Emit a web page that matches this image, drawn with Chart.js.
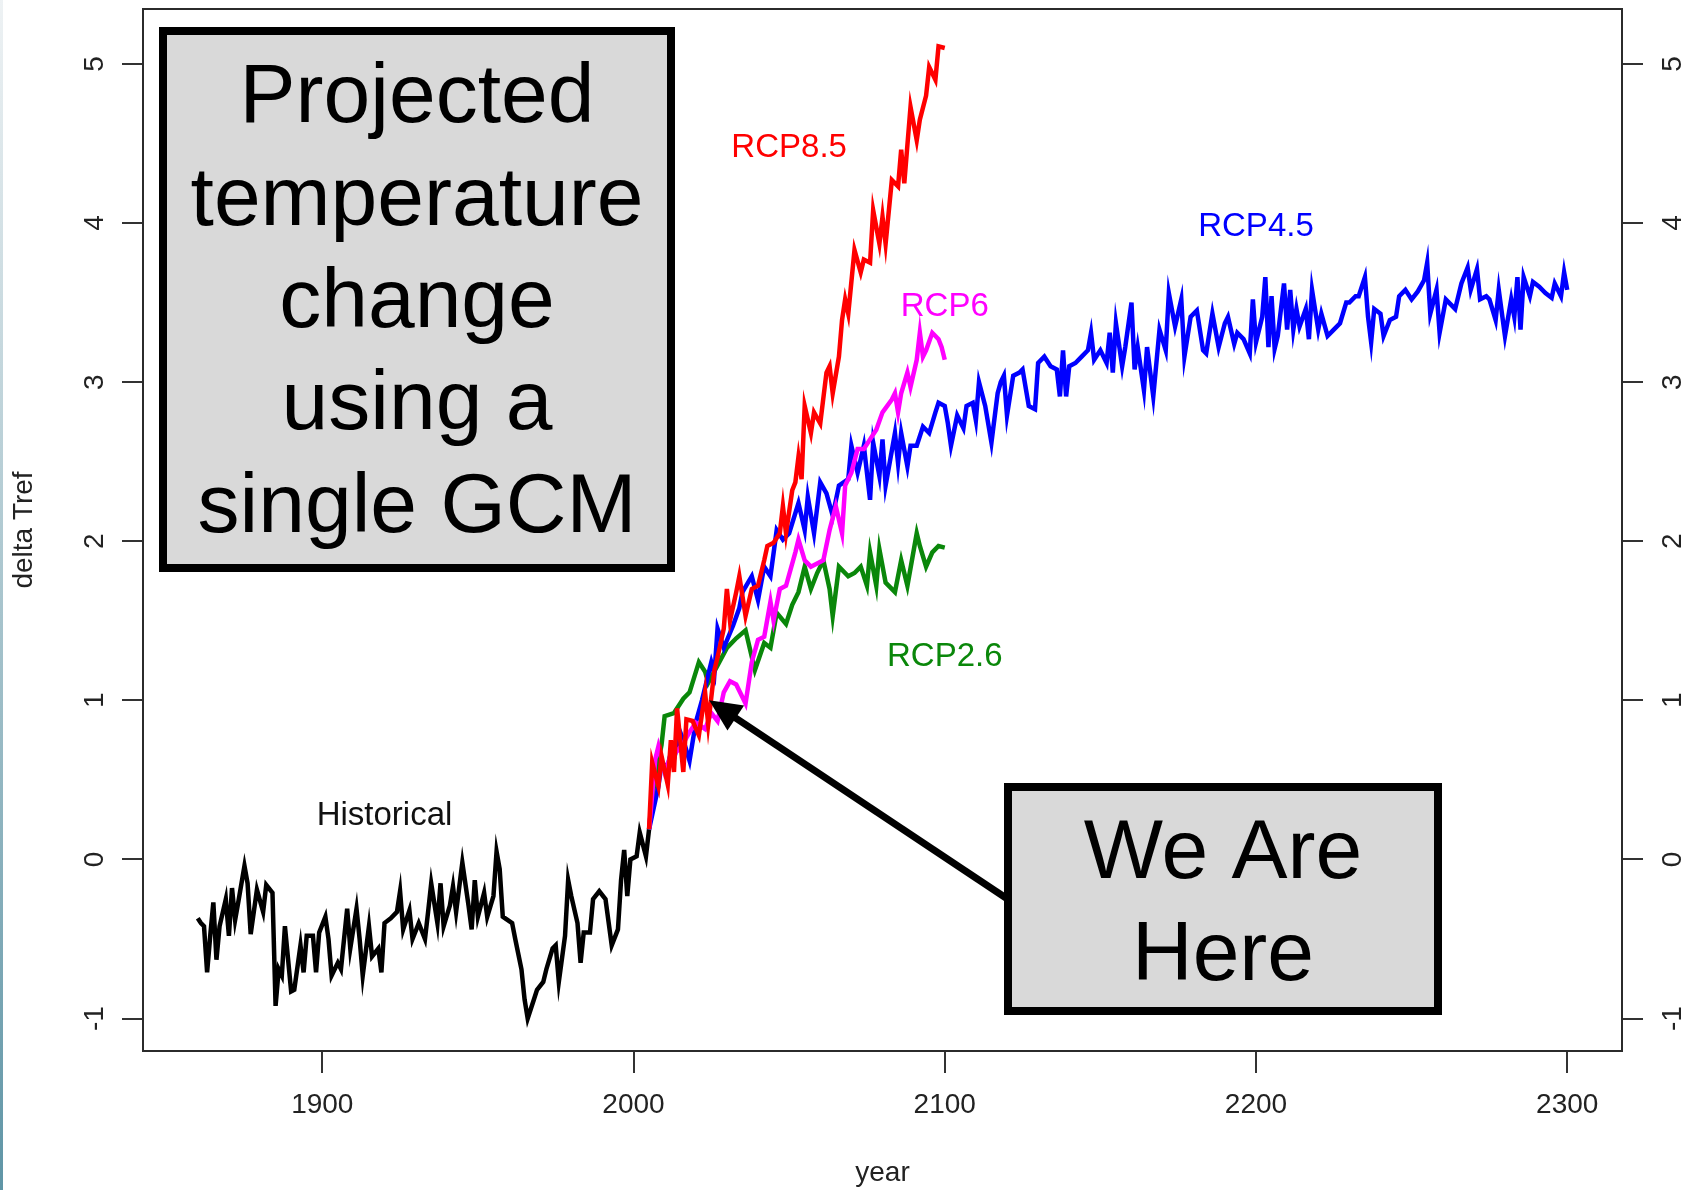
<!DOCTYPE html>
<html>
<head>
<meta charset="utf-8">
<script src="https://cdn.jsdelivr.net/npm/chart.js@4.4.1/dist/chart.umd.min.js"></script>
<style>
  html, body { margin: 0; padding: 0; background: #fff; }
  #wrap { position: relative; width: 1690px; height: 1190px; }
  #edge { position: absolute; left: 0; top: 0; width: 3px; height: 1190px;
          background: linear-gradient(#eef2f4, #9bbcc6 60%, #5f95a6); }
</style>
</head>
<body>
<div id="wrap">
  <canvas id="tref" width="1690" height="1190"></canvas>
  <div id="edge"></div>
</div>
<script>
// tick labels
const xTicks = [1900, 2000, 2100, 2200, 2300];
const yTicks = [-1, 0, 1, 2, 3, 4, 5];

// historical run
const histYears = [1860,1861,1862,1863,1864,1865,1866,1867,1869,1870,1871,1872,1873,1875,1876,1877,1879,1881,1882,1884,
  1885,1886,1887,1888,1890,1891,1893,1894,1895,1897,1898,1899,1901,1902,1903,1905,1906,1908,1909,1911,
  1912,1913,1915,1916,1918,1919,1920,1922,1924,1925,1926,1928,1929,1931,1933,1934,1935,1937,1938,1939,
  1941,1942,1943,1945,1947,1948,1949,1950,1952,1953,1955,1956,1957,1958,1961,1962,1964,1965,1966,1968,
  1969,1971,1972,1974,1975,1976,1978,1979,1980,1982,1983,1984,1986,1987,1989,1991,1993,1995,1996,1997,
  1998,1999,2001,2002,2004,2005];
const histTemp = [-0.37,-0.40,-0.42,-0.71,-0.48,-0.27,-0.63,-0.42,-0.25,-0.48,-0.18,-0.38,-0.27,-0.04,-0.15,-0.47,-0.19,-0.33,-0.16,-0.21,
  -0.92,-0.69,-0.73,-0.42,-0.83,-0.82,-0.54,-0.71,-0.48,-0.48,-0.71,-0.46,-0.36,-0.50,-0.73,-0.65,-0.69,-0.31,-0.56,-0.31,
  -0.50,-0.73,-0.42,-0.61,-0.56,-0.71,-0.40,-0.37,-0.33,-0.20,-0.44,-0.32,-0.50,-0.40,-0.50,-0.33,-0.15,-0.40,-0.15,-0.42,
  -0.29,-0.17,-0.33,-0.02,-0.29,-0.44,-0.13,-0.36,-0.21,-0.36,-0.23,0.05,-0.06,-0.36,-0.40,-0.50,-0.69,-0.88,-1.00,-0.88,
  -0.82,-0.77,-0.69,-0.56,-0.54,-0.77,-0.48,-0.13,-0.23,-0.40,-0.65,-0.46,-0.46,-0.25,-0.20,-0.25,-0.54,-0.44,-0.13,0.06,
  -0.23,0.00,0.02,0.17,0.02,0.19];

// RCP2.6
const rcp26Years = [2005,2006,2007,2009,2010,2013,2016,2018,2021,2023,2024,2027,2030,2033,2036,2039,2042,2044,2046,2049,
  2051,2053,2055,2057,2059,2061,2063,2064,2066,2069,2071,2073,2075,2076,2078,2079,2081,2084,2086,2088,
  2091,2092,2094,2096,2098,2100];
const rcp26Temp = [0.19,0.38,0.52,0.72,0.90,0.92,1.01,1.05,1.24,1.18,1.11,1.22,1.33,1.39,1.44,1.19,1.36,1.33,1.55,1.48,
  1.60,1.68,1.84,1.70,1.80,1.88,1.70,1.53,1.84,1.78,1.80,1.84,1.72,1.93,1.72,1.95,1.74,1.68,1.88,1.72,
  2.05,1.97,1.84,1.93,1.97,1.96];

// RCP4.5 (runs to 2300)
const rcp45Years = [2005,2008,2009,2011,2012,2013,2015,2016,2018,2020,2022,2025,2026,2027,2029,2032,2034,2035,2038,2040,
  2042,2044,2046,2048,2050,2053,2055,2056,2058,2060,2062,2064,2066,2069,2070,2072,2074,2076,2077,2079,
  2080,2081,2084,2085,2086,2088,2089,2091,2093,2095,2097,2098,2100,2101,2102,2104,2106,2107,2109,2110,
  2111,2113,2115,2117,2118,2119,2120,2122,2124,2125,2127,2129,2130,2132,2134,2136,2137,2138,2139,2140,
  2142,2144,2146,2147,2148,2150,2152,2153,2154,2155,2157,2158,2160,2161,2162,2164,2165,2167,2169,2171,
  2172,2174,2176,2177,2179,2181,2183,2184,2186,2188,2190,2191,2193,2194,2196,2198,2199,2200,2202,2203,
  2204,2205,2206,2207,2209,2210,2211,2212,2213,2214,2216,2217,2218,2220,2221,2223,2225,2227,2229,2230,
  2232,2233,2235,2236,2237,2238,2240,2241,2243,2245,2246,2248,2250,2252,2254,2255,2256,2258,2259,2261,
  2262,2264,2266,2268,2269,2271,2272,2274,2275,2277,2278,2280,2282,2283,2284,2285,2286,2288,2289,2291,
  2293,2295,2296,2298,2299,2300];
const rcp45Temp = [0.19,0.46,0.60,0.59,0.67,0.63,0.80,0.75,0.62,0.86,1.00,1.24,1.17,1.45,1.33,1.47,1.58,1.68,1.78,1.63,
  1.84,1.78,2.07,2.01,2.05,2.24,2.07,2.28,2.05,2.37,2.30,2.16,2.35,2.39,2.60,2.43,2.60,2.26,2.62,2.41,
  2.64,2.35,2.68,2.49,2.68,2.47,2.60,2.60,2.72,2.68,2.81,2.87,2.85,2.74,2.60,2.79,2.71,2.85,2.87,2.76,
  3.00,2.85,2.62,2.93,3.00,3.04,2.79,3.04,3.06,3.08,2.85,2.83,3.12,3.16,3.10,3.08,2.91,3.20,2.91,3.10,
  3.12,3.16,3.20,3.31,3.14,3.20,3.12,3.31,3.06,3.37,3.10,3.22,3.50,3.08,3.22,2.95,3.22,2.91,3.33,3.20,
  3.56,3.35,3.52,3.16,3.41,3.45,3.20,3.18,3.43,3.22,3.37,3.41,3.24,3.31,3.27,3.18,3.52,3.25,3.41,3.66,
  3.22,3.54,3.21,3.29,3.62,3.33,3.58,3.33,3.46,3.35,3.46,3.27,3.58,3.33,3.43,3.29,3.33,3.37,3.50,3.50,
  3.54,3.54,3.66,3.41,3.25,3.46,3.43,3.29,3.39,3.41,3.54,3.58,3.52,3.57,3.64,3.75,3.43,3.58,3.31,3.52,
  3.50,3.46,3.62,3.72,3.58,3.71,3.52,3.54,3.52,3.39,3.58,3.29,3.52,3.41,3.66,3.33,3.66,3.54,3.63,3.60,
  3.56,3.53,3.62,3.54,3.69,3.58];

// RCP6
const rcp60Years = [2005,2007,2008,2010,2012,2014,2016,2018,2020,2023,2025,2027,2029,2031,2033,2036,2038,2040,2042,2044,
  2045,2047,2049,2052,2053,2055,2057,2059,2061,2063,2065,2067,2068,2070,2072,2074,2076,2078,2080,2083,
  2084,2085,2086,2088,2089,2091,2092,2093,2094,2096,2098,2099,2100];
const rcp60Temp = [0.19,0.63,0.71,0.55,0.65,0.68,0.73,0.80,0.86,0.82,0.92,0.87,1.05,1.12,1.10,0.98,1.24,1.38,1.40,1.62,
  1.50,1.70,1.72,1.93,2.01,1.88,1.84,1.86,1.88,2.07,2.22,2.05,2.35,2.43,2.58,2.58,2.64,2.70,2.81,2.89,
  2.93,2.81,2.93,3.06,2.97,3.14,3.31,3.16,3.20,3.31,3.27,3.22,3.14];

// RCP8.5
const rcp85Years = [2005,2006,2008,2009,2011,2012,2013,2014,2016,2017,2019,2021,2023,2024,2026,2027,2029,2030,2031,2033,
  2034,2036,2038,2040,2042,2043,2045,2047,2048,2049,2051,2052,2053,2054,2055,2057,2058,2060,2062,2063,
  2064,2066,2067,2068,2069,2071,2073,2074,2076,2077,2079,2080,2081,2083,2085,2086,2087,2089,2091,2092,
  2094,2095,2097,2098,2100];
const rcp85Temp = [0.19,0.61,0.46,0.65,0.47,0.75,0.55,0.95,0.55,0.88,0.87,0.78,1.05,0.85,1.19,1.27,1.45,1.70,1.50,1.68,
  1.78,1.53,1.70,1.72,1.88,1.97,1.99,2.05,2.22,2.05,2.32,2.37,2.53,2.39,2.85,2.68,2.81,2.74,3.06,3.10,
  2.93,3.16,3.39,3.52,3.43,3.83,3.69,3.77,3.75,4.08,3.87,4.04,3.87,4.27,4.23,4.46,4.25,4.73,4.52,4.65,
  4.80,4.98,4.90,5.11,5.10];

const FONT = 'Liberation Sans, Arial, Helvetica, sans-serif';

const toXY = (xs, ys) => xs.map((x, i) => ({ x: x, y: ys[i] }));

function series(label, xs, ys, color) {
  return {
    label: label,
    data: toXY(xs, ys),
    borderColor: color,
    backgroundColor: color,
    borderWidth: 4.5,
    pointRadius: 0,
    tension: 0,
    fill: false
  };
}

// text placed in data coordinates, as text() would
const curveLabels = [
  { text: 'RCP8.5', x: 2050, y: 4.5, color: '#ff0000' },
  { text: 'RCP4.5', x: 2200, y: 4.0, color: '#0000ff' },
  { text: 'RCP6', x: 2100, y: 3.5, color: '#ff00ff' },
  { text: 'RCP2.6', x: 2100, y: 1.3, color: '#0a870a' },
  { text: 'Historical', x: 1920, y: 0.3, color: '#111111' }
];

const overlay = {
  id: 'overlay',
  beforeDatasetsDraw(chart) {
    const { ctx, chartArea: a } = chart;
    ctx.save();
    ctx.strokeStyle = '#2b2b2b';
    ctx.lineWidth = 2;
    ctx.strokeRect(a.left, a.top, a.right - a.left, a.bottom - a.top);
    ctx.restore();
  },
  afterDatasetsDraw(chart) {
    const { ctx, scales: { x, y } } = chart;
    ctx.save();
    ctx.textAlign = 'center';
    ctx.textBaseline = 'middle';
    ctx.font = '33px ' + FONT;
    curveLabels.forEach(l => {
      ctx.fillStyle = l.color;
      ctx.fillText(l.text, x.getPixelForValue(l.x), y.getPixelForValue(l.y) + 4);
    });

    // title box
    ctx.fillStyle = '#d9d9d9';
    ctx.strokeStyle = '#000';
    ctx.lineWidth = 8;
    ctx.fillRect(163, 31, 508, 537);
    ctx.strokeRect(163, 31, 508, 537);
    ctx.fillStyle = '#000';
    ctx.font = '84px ' + FONT;
    const lines = ['Projected', 'temperature', 'change', 'using a', 'single GCM'];
    lines.forEach((t, i) => ctx.fillText(t, 417, 99 + i * 102.4));

    // arrow to the present
    const tip = { x: x.getPixelForValue(2024.3), y: y.getPixelForValue(1.0) };
    const tail = { x: 1006, y: 898 };
    const dx = tip.x - tail.x, dy = tip.y - tail.y;
    const len = Math.hypot(dx, dy), ux = dx / len, uy = dy / len;
    const headLen = 32, headW = 15;
    const bx = tip.x - ux * headLen, by = tip.y - uy * headLen;
    ctx.strokeStyle = '#000';
    ctx.lineWidth = 7;
    ctx.beginPath();
    ctx.moveTo(tail.x, tail.y);
    ctx.lineTo(bx + ux * 4, by + uy * 4);
    ctx.stroke();
    ctx.beginPath();
    ctx.moveTo(tip.x, tip.y);
    ctx.lineTo(bx - uy * headW, by + ux * headW);
    ctx.lineTo(bx + uy * headW, by - ux * headW);
    ctx.closePath();
    ctx.fill();

    // "We Are Here" box
    ctx.fillStyle = '#d9d9d9';
    ctx.lineWidth = 8;
    ctx.fillRect(1008, 787, 430, 224);
    ctx.strokeRect(1008, 787, 430, 224);
    ctx.fillStyle = '#000';
    ctx.fillText('We Are', 1223, 855);
    ctx.fillText('Here', 1223, 957);
    ctx.restore();
  }
};

const tickFont = { family: FONT, size: 28 };
const yAxis = (position, pad) => ({
  type: 'linear',
  position: position,
  min: -1.204,
  max: 5.345,
  afterBuildTicks: s => { s.ticks = yTicks.map(v => ({ value: v })); },
  afterFit: s => {
    s.width = position === 'left' ? 143 : 68;
    s.paddingTop = 0;
    s.paddingBottom = 0;
  },
  grid: { drawOnChartArea: false, drawTicks: true, tickLength: 21, color: '#333', lineWidth: 2 },
  border: { display: false },
  ticks: { font: tickFont, color: '#222', padding: pad, minRotation: 90, maxRotation: 90,
           crossAlign: 'center', callback: v => String(v) },
  title: { display: position === 'left', text: 'delta Tref', font: tickFont, color: '#222',
           padding: { top: 7, bottom: 0 } }
});

new Chart(document.getElementById('tref'), {
  type: 'line',
  data: {
    datasets: [
      series('RCP8.5', rcp85Years, rcp85Temp, '#ff0000'),
      series('RCP6', rcp60Years, rcp60Temp, '#ff00ff'),
      series('RCP4.5', rcp45Years, rcp45Temp, '#0000ff'),
      series('RCP2.6', rcp26Years, rcp26Temp, '#0a870a'),
      series('Historical', histYears, histTemp, '#000000')
    ]
  },
  plugins: [overlay],
  options: {
    responsive: false,
    animation: false,
    devicePixelRatio: 1,
    layout: { padding: { top: 9, left: 0, right: 0, bottom: 0 } },
    plugins: { legend: { display: false }, tooltip: { enabled: false } },
    scales: {
      x: {
        type: 'linear',
        position: 'bottom',
        min: 1842.4,
        max: 2317.6,
        afterBuildTicks: s => { s.ticks = xTicks.map(v => ({ value: v })); },
        afterFit: s => { s.height = 139; s.paddingLeft = 0; s.paddingRight = 0; },
        grid: { drawOnChartArea: false, drawTicks: true, tickLength: 22, color: '#333', lineWidth: 2 },
        border: { display: false },
        ticks: { font: tickFont, color: '#222', padding: 15, maxRotation: 0, callback: v => String(v) },
        title: { display: true, text: 'year', font: tickFont, color: '#222', padding: { top: 0, bottom: 0 } }
      },
      y: yAxis('left', 14.5),
      y2: yAxis('right', 17.5)
    }
  }
});
</script>
</body>
</html>
